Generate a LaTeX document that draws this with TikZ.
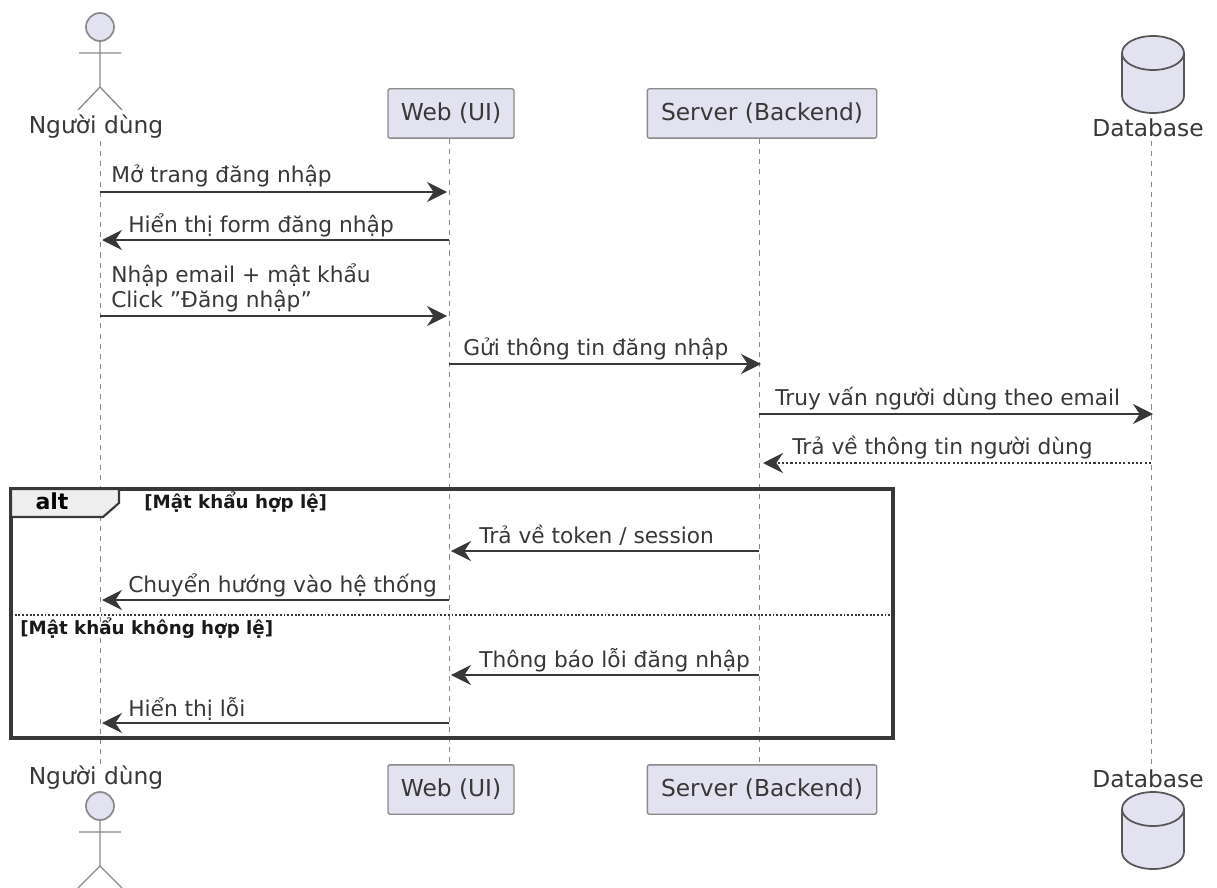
\documentclass[tikz,border=0pt]{standalone}
\usepackage{fontspec}
\setmainfont{DejaVu Sans}
\usetikzlibrary{arrows.meta}
\definecolor{partfill}{HTML}{E2E2F0}
\definecolor{ink}{HTML}{383838}
\definecolor{edge}{HTML}{8A8A8A}
\definecolor{tabfill}{HTML}{EEEEEE}
\newcommand{\txt}{\fontsize{17.5pt}{21pt}\selectfont}
\newcommand{\msgtxt}{\fontsize{16.3pt}{19pt}\selectfont}
\newcommand{\guardtxt}{\fontsize{13.7pt}{16pt}\selectfont\bfseries}
\tikzset{
  x=0.75pt,y=-0.75pt,
  partbox/.style={draw=edge,fill=partfill,line width=1pt,rounded corners=1.5pt,minimum width=94.5pt,minimum height=37pt,inner sep=0pt,text=ink,font=\txt},
  partname/.style={inner sep=0pt,text=ink,font=\txt},
  life/.style={draw=edge,line width=0.7pt,dash pattern=on 3.8pt off 3.8pt},
  msg/.style={draw=ink,line width=1.1pt,-{Stealth[length=15pt,width=15pt,inset=5pt]}},
  reply/.style={msg,dash pattern=on 1.6pt off 1.6pt},
  msglabel/.style={inner sep=0pt,anchor=base west,text=ink,font=\msgtxt},
  guard/.style={inner sep=0pt,anchor=base west,text=black!90,font=\guardtxt},
  actorline/.style={draw=edge,line width=1pt},
  actorhead/.style={draw=edge,fill=partfill,line width=1.3pt},
  dbshape/.style={draw=ink!85,fill=partfill,line width=1.3pt},
}
\begin{document}
\begin{tikzpicture}
\useasboundingbox (0,0) rectangle (1217,888);
% participant nodes
\node[partname] (userT) at (96,127) {Người dùng};
\node[partname] (userB) at (96,778) {Người dùng};
\node[partname] (dbT) at (1148,128) {Database};
\node[partname] (dbB) at (1148,779) {Database};
\node[partbox,minimum width=94.5pt] (webT) at (451,113.5) {Web (UI)};
\node[partbox,minimum width=94.5pt] (webB) at (451,789.5) {Web (UI)};
\node[partbox,minimum width=172pt] (srvT) at (762,113.5) {Server (Backend)};
\node[partbox,minimum width=172pt] (srvB) at (762,789.5) {Server (Backend)};
% lifeline ends
\coordinate (lu1) at (100,141);
\coordinate (lu2) at (100,766);
\coordinate (ld1) at (1151,141);
\coordinate (ld2) at (1151,766);
\coordinate (lw1) at (449,139);
\coordinate (lw2) at (449,764);
\coordinate (ls1) at (759,139);
\coordinate (ls2) at (759,764);
\draw[life] (lu1) -- (lu2);
\draw[life] (lw1) -- (lw2);
\draw[life] (ls1) -- (ls2);
\draw[life] (ld1) -- (ld2);
% actors
\draw[actorhead] (100,27) circle[radius=14];
\draw[actorline] (100,41) -- (100,87) (79,53) -- (121,53) (78,110) -- (100,87) -- (122,110);
\draw[actorhead] (100,806) circle[radius=14];
\draw[actorline] (100,820) -- (100,866) (79,832) -- (121,832) (78,888) -- (100,866) -- (122,888);
% databases
\draw[dbshape] (1122,53) -- (1122,96) arc[start angle=180,end angle=360,x radius=31,y radius=-17] -- (1184,53);
\draw[dbshape] (1153,53) ellipse[x radius=31,y radius=17];
\draw[dbshape] (1122,809) -- (1122,852) arc[start angle=180,end angle=360,x radius=31,y radius=-17] -- (1184,809);
\draw[dbshape] (1153,809) ellipse[x radius=31,y radius=17];
% alt frame
\draw[draw=ink,line width=2.6pt] (11,489) rectangle (893,738);
\draw[draw=ink,line width=1.6pt,fill=tabfill] (11,489) -- (119,489) -- (119,503) -- (103,517) -- (11,517) -- cycle;
\node[inner sep=0pt,anchor=base,text=black,font=\fontsize{16.5pt}{18pt}\selectfont\bfseries] (altlabel) at (52,509) {alt};
\node[guard] (g1) at (144,508) {[Mật khẩu hợp lệ]};
\draw[draw=ink,line width=0.9pt,dash pattern=on 1.4pt off 1.4pt] (11,615) -- (893,615);
\node[guard] (g2) at (20,634) {[Mật khẩu không hợp lệ]};
% message anchors
\foreach \n/\xa/\xb/\y in {1/100/447/192,2/449/102/240,3/100/447/316,4/449/761/364,5/759/1153/414,7/759/451/551,8/449/102/600,9/759/451/675,10/449/102/723}{
  \coordinate (a\n) at (\xa,\y);
  \coordinate (b\n) at (\xb,\y);
  \draw[msg] (a\n) -- (b\n);
}
\coordinate (a6) at (1151,463);
\coordinate (b6) at (763,463);
\draw[reply] (a6) -- (b6);
% message labels
\node[msglabel] (t1) at (111,183) {Mở trang đăng nhập};
\node[msglabel] (t2) at (128,232) {Hiển thị form đăng nhập};
\node[msglabel] (t3a) at (111,282) {Nhập email + mật khẩu};
\node[msglabel] (t3b) at (111,307) {Click \symbol{34}Đăng nhập\symbol{34}};
\node[msglabel] (t4) at (463,355) {Gửi thông tin đăng nhập};
\node[msglabel] (t5) at (775,405) {Truy vấn người dùng theo email};
\node[msglabel] (t6) at (792,454) {Trả về thông tin người dùng};
\node[msglabel] (t7) at (479,543) {Trả về token / session};
\node[msglabel] (t8) at (128,592) {Chuyển hướng vào hệ thống};
\node[msglabel] (t9) at (479,667) {Thông báo lỗi đăng nhập};
\node[msglabel] (t10) at (128,716) {Hiển thị lỗi};
\end{tikzpicture}
\end{document}
